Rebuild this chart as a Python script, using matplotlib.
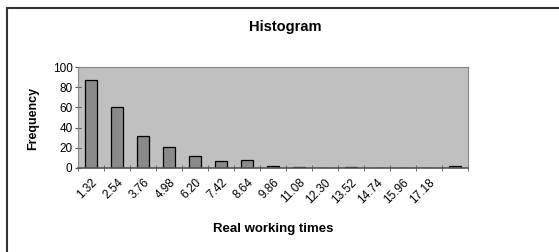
import matplotlib.pyplot as plt
import numpy as np

plt.rcParams['font.family'] = ['Liberation Sans', 'DejaVu Sans']

# bins (upper bounds) and counts
bin_labels = ['1.32', '2.54', '3.76', '4.98', '6.20', '7.42', '8.64', '9.86',
              '11.08', '12.30', '13.52', '14.74', '15.96', '17.18', '']
counts = [87, 60, 32, 21, 12, 7, 8, 2, 1, 0, 1, 0, 0, 0, 2]

fig = plt.figure(figsize=(5.59, 2.52), dpi=100)
ax = fig.add_axes([78/559, 1 - 168/252, 390/559, 101/252])

x = np.arange(len(counts))
ax.bar(x, counts, width=0.46, color='#8a8a8a', edgecolor='black', linewidth=0.9)
ax.set_facecolor('#c0c0c0')
ax.set_xlim(-0.5, len(counts) - 0.5)
ax.set_ylim(0, 100)
ax.set_yticks(range(0, 101, 20))

# labels at category centres, ticks at boundaries
ax.set_xticks(x)
ax.set_xticklabels(bin_labels, rotation=45, ha='right', rotation_mode='anchor', fontsize=8.5)
ax.tick_params(axis='x', which='major', length=0, pad=6)
ax.set_xticks(np.arange(-0.5, len(counts)), minor=True)
ax.tick_params(axis='x', which='minor', length=4, direction='inout', color='#555555')
ax.tick_params(axis='y', length=4, direction='inout', color='#555555', labelsize=8.5, pad=2)

for s in ['top', 'right', 'left']:
    ax.spines[s].set_color('#888888')
ax.spines['bottom'].set_color('#555555')
ax.spines['bottom'].set_linewidth(1.2)

fig.text(285/559, 1 - 27/252, 'Histogram', ha='center', va='center', fontsize=10.5, fontweight='bold')
fig.text(33/559, 1 - 118/252, 'Frequency', ha='center', va='center', rotation=90, fontsize=9, fontweight='bold')
fig.text(273/559, 1 - 229/252, 'Real working times', ha='center', va='center', fontsize=9.5, fontweight='bold')

# outer frame (only top and left edges visible)
fig.add_artist(plt.Line2D([6.5/559, 1], [1 - 7.5/252] * 2, color='#333333', linewidth=1.5))
fig.add_artist(plt.Line2D([6.5/559] * 2, [0, 1 - 7.5/252], color='#333333', linewidth=1.5))

plt.savefig('out.png', dpi=100)
